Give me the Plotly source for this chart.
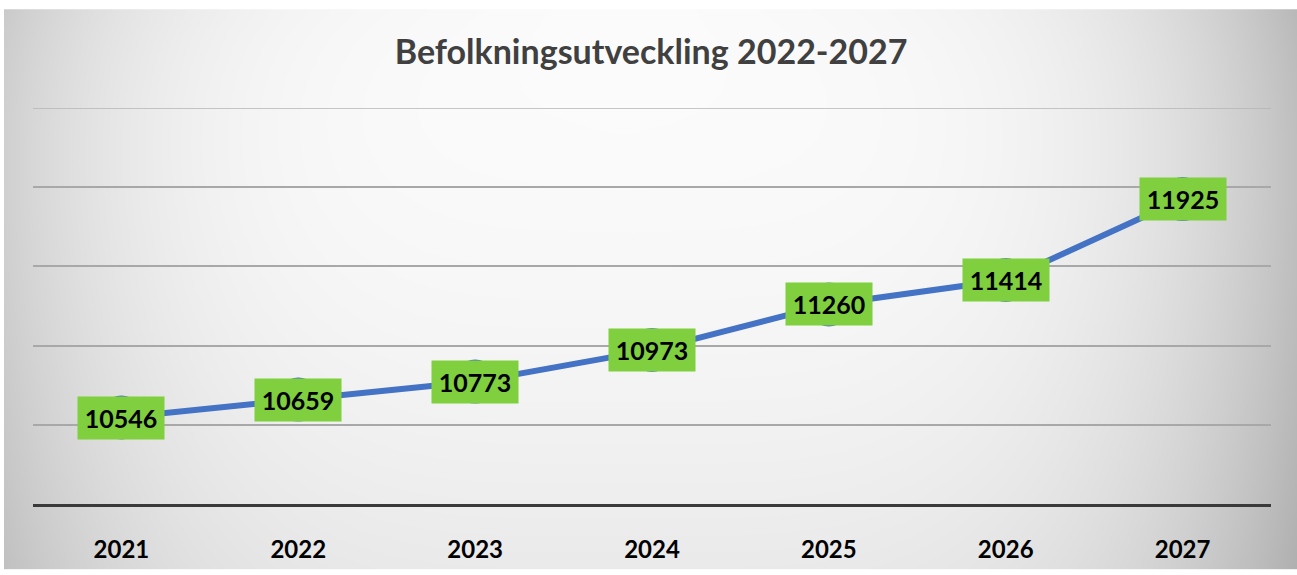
import base64, struct, zlib
import numpy as np
import plotly.graph_objects as go

# ---- data ----
years = ["2021", "2022", "2023", "2024", "2025", "2026", "2027"]
population = [10546, 10659, 10773, 10973, 11260, 11414, 11925]
title_text = "Befolkningsutveckling 2022-2027"
y_min, y_max, y_step = 10000, 12500, 500

W, H = 1297, 575

# ---- background gradient image (decoration only) ----
def make_bg(w, h):
    xs = np.linspace(0, 1, w)
    ys = np.linspace(0, 1, h)
    X, Y = np.meshgrid(xs, ys)
    dx = (X - 0.48) / 0.52
    v = 252 - 58 * np.abs(dx) ** 4 - 18 * Y ** 2 - 10 * (1 - Y) ** 6 * np.abs(dx)
    v = np.clip(v, 0, 255).astype(np.uint8)
    v[:8, :] = 255
    v[:, :4] = 255
    raw = b"".join(b"\x00" + row.tobytes() for row in v)
    def chunk(t, d):
        c = struct.pack(">I", len(d)) + t + d
        return c + struct.pack(">I", zlib.crc32(t + d) & 0xFFFFFFFF)
    png = b"\x89PNG\r\n\x1a\n"
    png += chunk(b"IHDR", struct.pack(">IIBBBBB", w, h, 8, 0, 0, 0, 0))
    png += chunk(b"IDAT", zlib.compress(raw, 9))
    png += chunk(b"IEND", b"")
    return "data:image/png;base64," + base64.b64encode(png).decode()

bg = make_bg(W, H)

ml, mr, mt, mb = 33, 26, 108, 66
pw, ph = W - ml - mr, H - mt - mb

fig = go.Figure()
fig.add_trace(go.Scatter(
    x=years, y=population, mode="lines+markers",
    line=dict(color="#4472C4", width=6),
    marker=dict(color="#4472C4", size=44),
    hoverinfo="skip", showlegend=False,
))

for i, val in enumerate(population):
    fig.add_annotation(
        x=i, y=val, xref="x", yref="y", text=str(val), showarrow=False,
        bgcolor="#7FCF3F", width=80, height=36, borderpad=3,
        font=dict(family="Lato", size=25, color="#000000", weight="bold"),
        xanchor="center", yanchor="middle",
    )

# top gridline (at the edge of the plot area)
fig.add_shape(type="line", xref="paper", yref="y", x0=0, x1=1, y0=y_max, y1=y_max,
              line=dict(color="#b4b4b4", width=1.5), layer="below")

fig.add_layout_image(dict(
    source=bg, xref="paper", yref="paper",
    x=-ml / pw, y=1 + mt / ph, sizex=W / pw, sizey=H / ph,
    xanchor="left", yanchor="top", sizing="stretch", layer="below",
))

fig.update_layout(
    width=W, height=H,
    margin=dict(l=ml, r=mr, t=mt, b=mb),
    paper_bgcolor="rgba(0,0,0,0)", plot_bgcolor="rgba(0,0,0,0)",
    title=dict(text=title_text, x=0.502, xanchor="center",
               y=1 - 52 / H, yanchor="middle", yref="container",
               font=dict(family="Lato", size=34, color="#404040", weight="bold")),
    xaxis=dict(type="category", range=[-0.5, 6.5], showgrid=False,
               showline=True, linecolor="#3a3a3a", linewidth=3,
               ticks="", ticklabelstandoff=22,
               tickfont=dict(family="Lato", size=24, color="#000000", weight="bold")),
    yaxis=dict(range=[y_min, y_max], dtick=y_step, showgrid=True,
               gridcolor="#a8a8a8", gridwidth=1.5, showticklabels=False,
               zeroline=False, ticks=""),
)

fig.write_html("out.html")
